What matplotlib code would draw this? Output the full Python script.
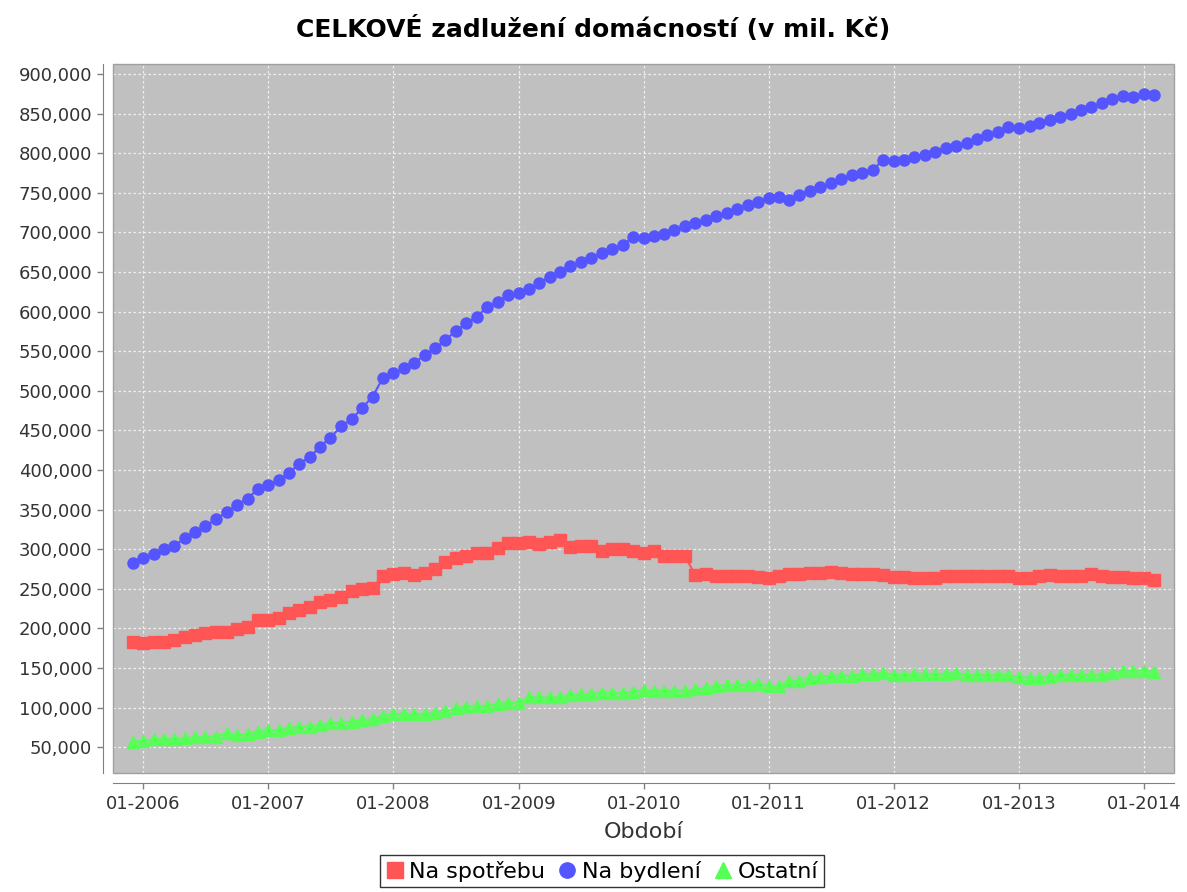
import matplotlib
matplotlib.use('Agg')
import matplotlib.pyplot as plt
import matplotlib.dates as mdates
from matplotlib.lines import Line2D
from matplotlib.patches import Rectangle
from matplotlib.ticker import FuncFormatter, MultipleLocator
import pandas as pd

# monthly values, 12-2005 .. 02-2014, in CZK millions
months = pd.date_range('2005-12-01', periods=99, freq='MS')

na_spotrebu = [
    183000, 181000, 182500, 183000, 185400, 189000, 191700, 194000, 195000, 196000,
    199300, 202000, 210600, 210600, 212700, 220000, 223000, 226600, 233700, 236000,
    240000, 247000, 249400, 251400, 266000, 268300, 269600, 267500, 270400, 274600,
    284000, 288500, 291000, 294800, 295600, 301000, 307500, 307500, 309500, 306600,
    309500, 311600, 302400, 304000, 304000, 298000, 300000, 300000, 298000, 294800,
    298000, 291400, 291400, 291400, 267500, 268700, 266200, 266200, 266200, 266200,
    264500, 263300, 266200, 268300, 268300, 269600, 270400, 271600, 270400, 268300,
    268300, 268300, 267500, 265400, 265400, 264000, 264000, 264000, 266200, 266200,
    266200, 266200, 266200, 266200, 266200, 264000, 264000, 266200, 267500, 266200,
    266200, 266200, 268300, 266200, 265400, 265400, 264000, 264000, 261200,
]

na_bydleni = [
    282000, 288500, 294000, 300000, 304000, 314000, 322000, 329000, 338000, 347000,
    356000, 364000, 376000, 381000, 387400, 396000, 408000, 416000, 429500, 441000,
    455000, 464000, 478000, 492600, 516000, 522000, 528500, 535000, 545000, 553700,
    564000, 576000, 585000, 593600, 606000, 612500, 621000, 623000, 628000, 636000,
    644000, 650500, 657000, 663000, 667400, 673600, 678600, 684000, 694000, 692600,
    695500, 698000, 703000, 708000, 711500, 715700, 720700, 724000, 729000, 734600,
    739000, 743000, 745000, 741000, 747000, 752000, 756700, 762000, 768000, 772500,
    774600, 778800, 791400, 790600, 792000, 794800, 797700, 802000, 806000, 809000,
    813000, 817500, 823000, 827000, 833500, 832000, 834000, 837700, 842000, 846000,
    849500, 854500, 858700, 863000, 868000, 872000, 870600, 874700, 873500,
]

ostatni = [
    56600, 58300, 60000, 60000, 60000, 61300, 62500, 63400, 63400, 67600,
    65500, 66700, 69600, 71700, 71700, 73900, 76000, 76000, 78000, 80200,
    81000, 82200, 84400, 85300, 89400, 91600, 91600, 91600, 91600, 93600,
    95700, 99200, 101200, 102000, 102000, 104600, 106200, 106200, 113000, 113000,
    113000, 113000, 116000, 117200, 117200, 118900, 118900, 118900, 120100, 122200,
    121400, 121400, 121400, 121000, 123100, 124400, 127300, 128600, 128600, 128600,
    129800, 127300, 127300, 134000, 134000, 137800, 139000, 140300, 140300, 140300,
    142400, 142400, 144100, 141200, 141200, 142400, 142400, 142400, 142400, 144100,
    141200, 141200, 141200, 141200, 141200, 139000, 137800, 137800, 139000, 141200,
    141200, 141200, 141200, 141200, 144100, 146200, 146200, 146200, 145400,
]

series_names = ['Na spotřebu', 'Na bydlení', 'Ostatní']
series_colors = ['#FF5555', '#5555FF', '#55FF55']
series_markers = ['s', 'o', '^']
series_sizes = [8.2, 8.0, 8.6]

fig = plt.figure(figsize=(11.87, 8.92), dpi=100)
ax = fig.add_axes([113 / 1187, 1 - 773 / 892, 1061 / 1187, 709 / 892])
ax.set_facecolor('#C0C0C0')

for values, name, color, marker, size in zip([na_spotrebu, na_bydleni, ostatni], series_names,
                                             series_colors, series_markers, series_sizes):
    ax.plot(months, values, color=color, lw=1.5, marker=marker, ms=size,
            mec=color, mfc=color, label=name, zorder=3)

ax.set_ylim(17500, 912600)
ax.set_xlim(pd.Timestamp('2005-10-04'), pd.Timestamp('2014-03-30'))
ax.yaxis.set_major_locator(MultipleLocator(50000))
ax.yaxis.set_major_formatter(FuncFormatter(lambda v, p: f'{int(v):,}'))
ax.xaxis.set_major_locator(mdates.YearLocator())
ax.xaxis.set_major_formatter(mdates.DateFormatter('%m-%Y'))

ax.grid(True, color='#F0F0F0', ls=(0, (2, 2)), lw=0.9)
ax.set_axisbelow(True)

for side in ['top', 'right']:
    ax.spines[side].set_visible(False)
for side in ['left', 'bottom']:
    ax.spines[side].set_position(('outward', 7))
    ax.spines[side].set_color('#808080')
ax.add_patch(Rectangle((0, 0), 1, 1, transform=ax.transAxes, fill=False,
                       ec='#A0A0A0', lw=1, zorder=5, clip_on=False))

ax.tick_params(axis='both', colors='#808080', labelcolor='#333333',
               labelsize=13, length=4, width=1)
ax.tick_params(axis='y', pad=4)
ax.tick_params(axis='x', pad=5)

ax.set_xlabel('Období', fontsize=16, color='#333333')
ax.xaxis.set_label_coords(0.5, -0.069)

fig.text(0.5, 1 - 29 / 892, 'CELKOVÉ zadlužení domácností (v mil. Kč)',
         ha='center', va='center', fontsize=18, fontweight='bold')

handles = [Line2D([], [], ls='none', marker=m, color=c, ms=11, mec=c, mfc=c)
           for m, c in zip(series_markers, series_colors)]
leg = fig.legend(handles, series_names, loc='upper center',
                 bbox_to_anchor=(602 / 1187, 1 - 855 / 892),
                 ncol=3, fontsize=16, frameon=True, fancybox=False, edgecolor='black',
                 handlelength=0.8, handletextpad=0.25, columnspacing=0.6,
                 borderpad=0.25, borderaxespad=0)
leg.get_frame().set_linewidth(1)

plt.savefig('out.png', dpi=100)
